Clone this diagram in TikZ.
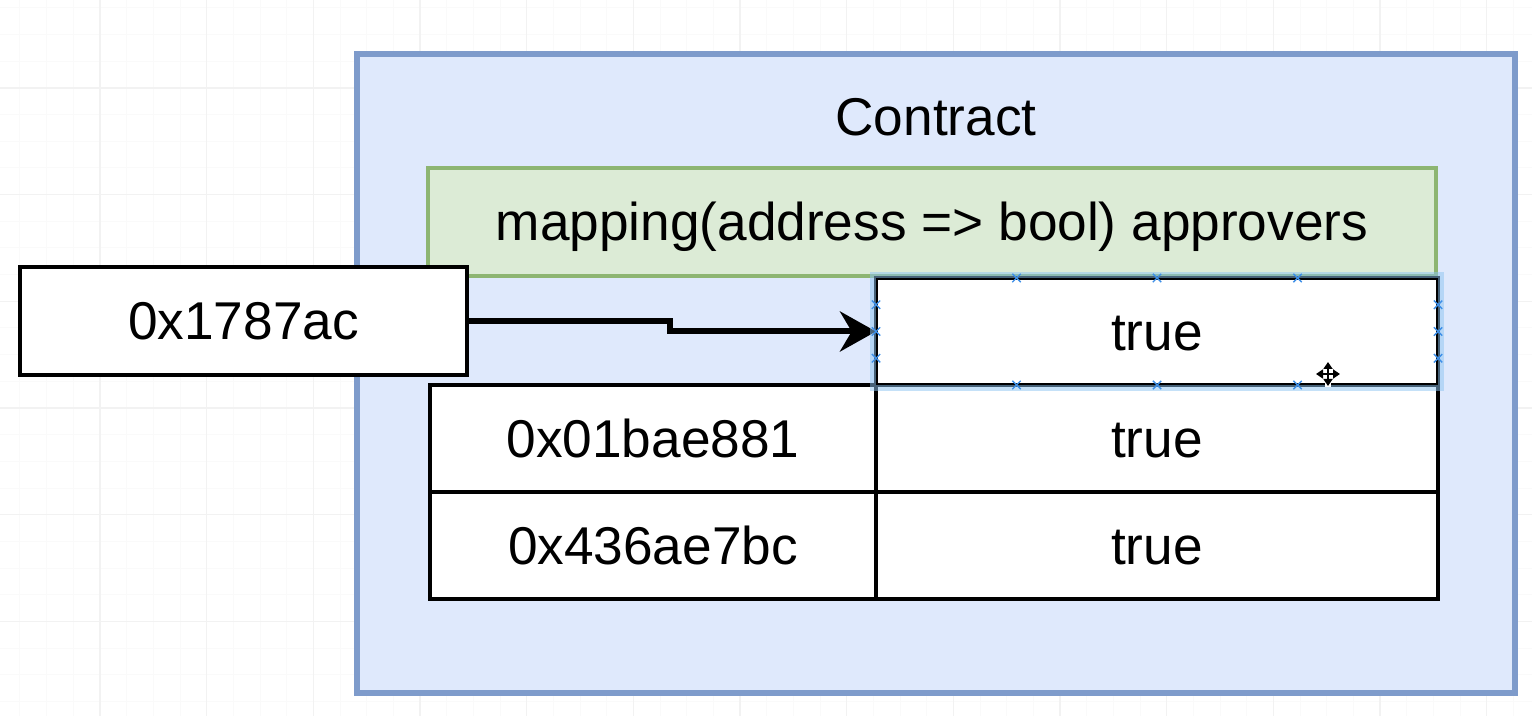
\documentclass[tikz,border=0pt]{standalone}
\usepackage{fontspec}
\setmainfont{Liberation Sans}
\usetikzlibrary{positioning,arrows.meta,shapes.misc}
\definecolor{contractfill}{HTML}{DFE9FC}
\definecolor{contractline}{HTML}{7E9BCB}
\definecolor{mapfill}{HTML}{DCEBD6}
\definecolor{mapline}{HTML}{8DB572}
\definecolor{selglow}{HTML}{8CC4F2}
\definecolor{selmark}{HTML}{3D8FE8}
\tikzstyle{txt} = [font=\fontsize{26.6}{32}\selectfont, text height=19pt, text depth=0pt, inner sep=0pt]
\tikzstyle{container} = [rectangle, draw=contractline, fill=contractfill, line width=2.6pt,
    minimum width=579pt, minimum height=319.5pt, outer sep=0pt]
\tikzstyle{header} = [rectangle, draw=mapline, fill=mapfill, line width=2pt, txt,
    minimum width=504pt, minimum height=54pt]
\tikzstyle{keycell} = [rectangle, draw, fill=white, line width=2pt, txt,
    minimum width=223pt, minimum height=53.5pt, outer sep=0pt]
\tikzstyle{valcell} = [keycell, minimum width=281pt]
\tikzstyle{halo} = [draw=selglow, line width=3pt, opacity=0.5]
\tikzstyle{handle} = [cross out, draw=selmark, line width=0.7pt, minimum size=3.5pt, inner sep=0pt]
\tikzstyle{line} = [draw, line width=3pt, -{Stealth[length=18pt,width=20pt]}]
\begin{document}
\begin{tikzpicture}[x=0.5pt, y=-0.5pt]
    \useasboundingbox[fill=white] (0,0) rectangle (1532,716);
    % Background grid
    \foreach \i in {0,...,58} \draw[black!2, line width=0.5pt] ({-6.67+26.667*\i},0) -- ++(0,716);
    \foreach \i in {0,...,27} \draw[black!2, line width=0.5pt] (0,{-18.67+26.667*\i}) -- ++(1532,0);
    \foreach \i in {0,...,15} \draw[black!5, line width=0.6pt] ({-6.67+106.67*\i},0) -- ++(0,716);
    \foreach \i in {0,...,7} \draw[black!5, line width=0.6pt] (0,{-18.67+106.67*\i}) -- ++(1532,0);
    % Place nodes
    \node [container] (contract) at (936,373.5) {};
    \node [txt, below=21.5pt of contract.north] (title) {Contract};
    \node [header] (map) at (932,222) {mapping(address => bool) approvers};
    \node [valcell, anchor=north east] (sel) at (map.south east) {true};
    \node [valcell, below=0pt of sel] (v1) {true};
    \node [valcell, below=0pt of v1] (v2) {true};
    \node [keycell, left=0pt of v1] (k1) {0x01bae881};
    \node [keycell, left=0pt of v2] (k2) {0x436ae7bc};
    \node [keycell, minimum width=223.5pt, minimum height=54pt] (addr) at (243.5,321) {0x1787ac};

    % Draw edges
    \path [line] (addr.east) -- ++(203,0) |- (sel.west);

    % Selection of the cell
    \draw [halo] ([xshift=-1.5pt,yshift=1.5pt]sel.north west) rectangle ([xshift=1.5pt,yshift=-1.5pt]sel.south east);
    \foreach \f/\n in {0.25/1,0.5/2,0.75/3} {
        \path (sel.north west) -- (sel.north east) node[handle, pos=\f] (top\n) {};
        \path (sel.south west) -- (sel.south east) node[handle, pos=\f] (bot\n) {};
        \path (sel.north west) -- (sel.south west) node[handle, pos=\f] (lft\n) {};
        \path (sel.north east) -- (sel.south east) node[handle, pos=\f] (rgt\n) {};
    }
    \coordinate (grip) at (1328,374);
    \draw [white, line width=2.6pt] ([xshift=-6.5pt]grip) -- ([xshift=6.5pt]grip)
        ([yshift=-6.5pt]grip) -- ([yshift=6.5pt]grip);
    \draw [line width=1pt, {Triangle[length=3.5pt,width=4.5pt]}-{Triangle[length=3.5pt,width=4.5pt]}]
        ([xshift=-6pt]grip) -- ([xshift=6pt]grip);
    \draw [line width=1pt, {Triangle[length=3.5pt,width=4.5pt]}-{Triangle[length=3.5pt,width=4.5pt]}]
        ([yshift=-6pt]grip) -- ([yshift=6pt]grip);
\end{tikzpicture}
\end{document}
